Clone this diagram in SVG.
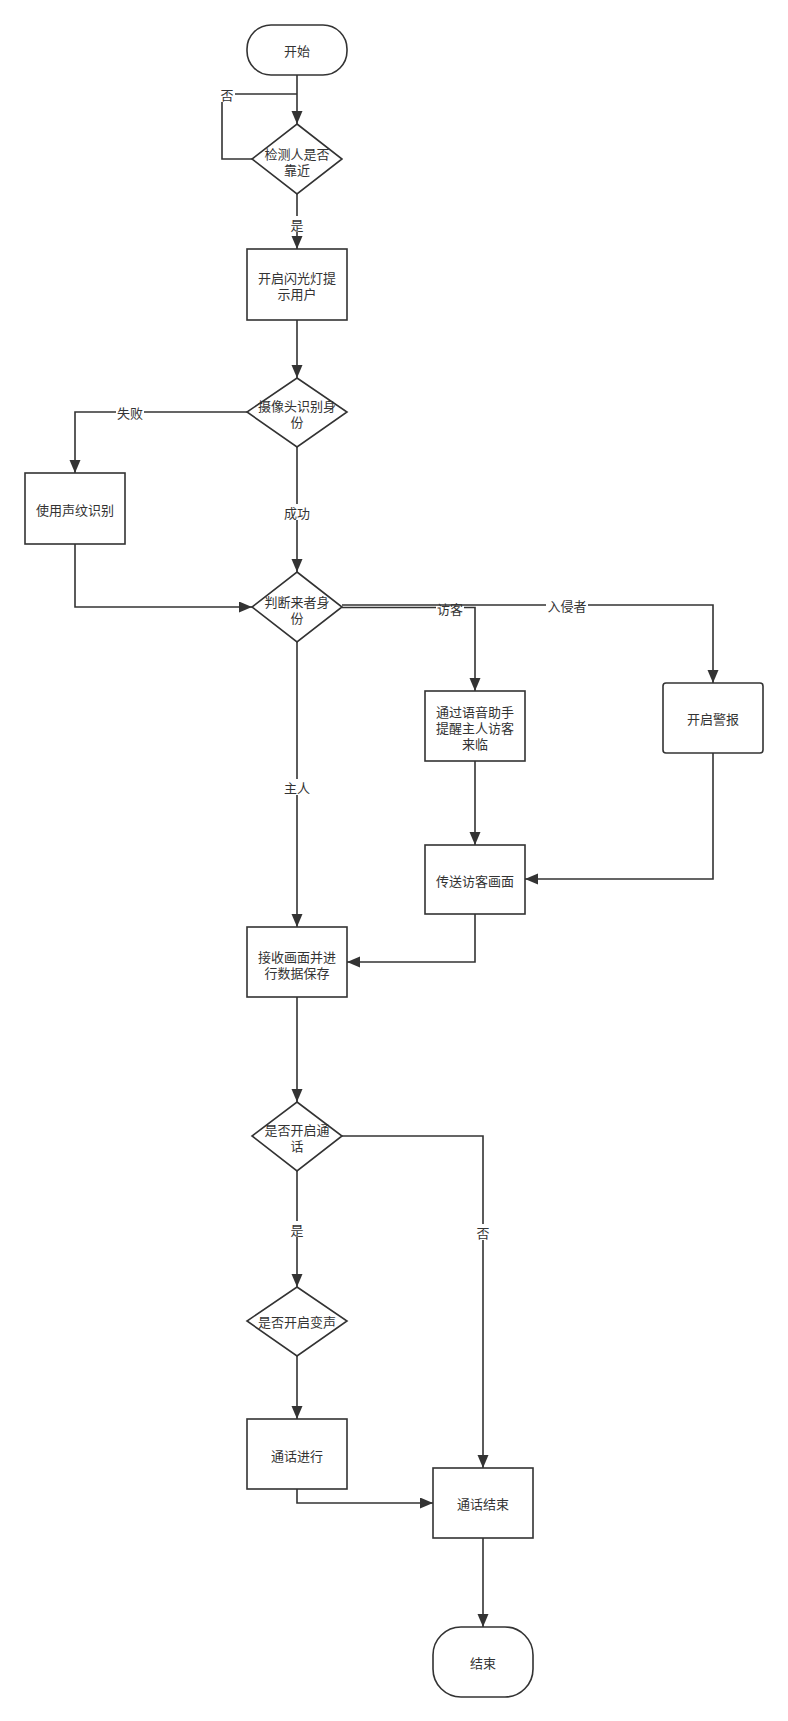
<svg xmlns="http://www.w3.org/2000/svg" width="788" height="1721" viewBox="0 0 788 1721">
<style>
.n{fill:#fff;stroke:#333;stroke-width:1.6}
.e{fill:none;stroke:#333;stroke-width:1.6}
.t{font-family:"Noto Sans CJK SC","Liberation Sans",sans-serif;font-size:13px;fill:#333;text-anchor:middle;dominant-baseline:central}
.lb{fill:#fff}
</style>
<defs>
<marker id="a" markerUnits="userSpaceOnUse" markerWidth="14" markerHeight="12" refX="13" refY="5.5" orient="auto">
<path d="M0,0 L13,5.5 L0,11 Z" fill="#333"/>
</marker>
</defs>
<rect width="788" height="1721" fill="#fff"/>
<g id="edges">
<path class="e" d="M297,75 V124" marker-end="url(#a)"/>
<path class="e" d="M252,159 H222 V94 H297"/>
<path class="e" d="M297,194 V249" marker-end="url(#a)"/>
<path class="e" d="M297,320 V378" marker-end="url(#a)"/>
<path class="e" d="M247,412 H75 V473" marker-end="url(#a)"/>
<path class="e" d="M297,447 V572" marker-end="url(#a)"/>
<path class="e" d="M75,544 V607 H252" marker-end="url(#a)"/>
<path class="e" d="M342,607.5 H475 V691" marker-end="url(#a)"/>
<rect class="lb" x="436" y="600" width="28" height="16"/>
<text class="t" x="450" y="608">访客</text>
<path class="e" d="M342,605 H713 V683" marker-end="url(#a)"/>
<path class="e" d="M297,642 V927" marker-end="url(#a)"/>
<path class="e" d="M475,761 V845" marker-end="url(#a)"/>
<path class="e" d="M713,753 V879 H525" marker-end="url(#a)"/>
<path class="e" d="M475,914 V962 H347" marker-end="url(#a)"/>
<path class="e" d="M297,997 V1102" marker-end="url(#a)"/>
<path class="e" d="M342,1136 H483 V1468" marker-end="url(#a)"/>
<path class="e" d="M297,1171 V1287" marker-end="url(#a)"/>
<path class="e" d="M297,1356 V1419" marker-end="url(#a)"/>
<path class="e" d="M297,1489 V1503 H433" marker-end="url(#a)"/>
<path class="e" d="M483,1538 V1627" marker-end="url(#a)"/>
<rect class="lb" x="219" y="86" width="16" height="16"/>
<text class="t" x="227" y="94">否</text>
<rect class="lb" x="289" y="216" width="16" height="16"/>
<text class="t" x="297" y="224">是</text>
<rect class="lb" x="116" y="404" width="28" height="16"/>
<text class="t" x="130" y="412">失败</text>
<rect class="lb" x="283" y="504" width="28" height="16"/>
<text class="t" x="297" y="512">成功</text>
<rect class="lb" x="546" y="597" width="42" height="16"/>
<text class="t" x="567" y="605">入侵者</text>
<rect class="lb" x="283" y="779" width="28" height="16"/>
<text class="t" x="297" y="787">主人</text>
<rect class="lb" x="289" y="1221" width="16" height="16"/>
<text class="t" x="297" y="1229">是</text>
<rect class="lb" x="475" y="1224" width="16" height="16"/>
<text class="t" x="483" y="1232">否</text>
</g>
<g id="start"><rect class="n" x="247" y="25" width="100" height="50" rx="24"/><text class="t" x="297" y="50">开始</text></g>
<g id="detect"><path class="n" d="M297,124 L342,159 L297,194 L252,159 Z"/><text class="t" x="297" y="153">检测人是否</text><text class="t" x="297" y="169">靠近</text></g>
<g id="flash"><rect class="n" x="247" y="249" width="100" height="71"/><text class="t" x="297" y="277">开启闪光灯提</text><text class="t" x="297" y="293">示用户</text></g>
<g id="camera"><path class="n" d="M297,378 L347,412 L297,447 L247,412 Z"/><text class="t" x="297" y="405">摄像头识别身</text><text class="t" x="297" y="421">份</text></g>
<g id="voiceprint"><rect class="n" x="25" y="473" width="100" height="71"/><text class="t" x="75" y="509">使用声纹识别</text></g>
<g id="judge"><path class="n" d="M297,572 L342,607 L297,642 L252,607 Z"/><text class="t" x="297" y="601">判断来者身</text><text class="t" x="297" y="617">份</text></g>
<g id="notify"><rect class="n" x="425" y="691" width="100" height="70"/><text class="t" x="475" y="711">通过语音助手</text><text class="t" x="475" y="727">提醒主人访客</text><text class="t" x="475" y="743">来临</text></g>
<g id="alarm"><rect class="n" x="663" y="683" width="100" height="70" rx="3"/><text class="t" x="713" y="718">开启警报</text></g>
<g id="send"><rect class="n" x="425" y="845" width="100" height="69"/><text class="t" x="475" y="880">传送访客画面</text></g>
<g id="save"><rect class="n" x="247" y="927" width="100" height="70"/><text class="t" x="297" y="956">接收画面并进</text><text class="t" x="297" y="972">行数据保存</text></g>
<g id="call"><path class="n" d="M297,1102 L342,1136 L297,1171 L252,1136 Z"/><text class="t" x="297" y="1129">是否开启通</text><text class="t" x="297" y="1145">话</text></g>
<g id="voicechange"><path class="n" d="M297,1287 L347,1321 L297,1356 L247,1321 Z"/><text class="t" x="297" y="1321">是否开启变声</text></g>
<g id="calling"><rect class="n" x="247" y="1419" width="100" height="70"/><text class="t" x="297" y="1455">通话进行</text></g>
<g id="callend"><rect class="n" x="433" y="1468" width="100" height="70"/><text class="t" x="483" y="1503">通话结束</text></g>
<g id="end"><rect class="n" x="433" y="1627" width="100" height="70" rx="28"/><text class="t" x="483" y="1662">结束</text></g>
</svg>
